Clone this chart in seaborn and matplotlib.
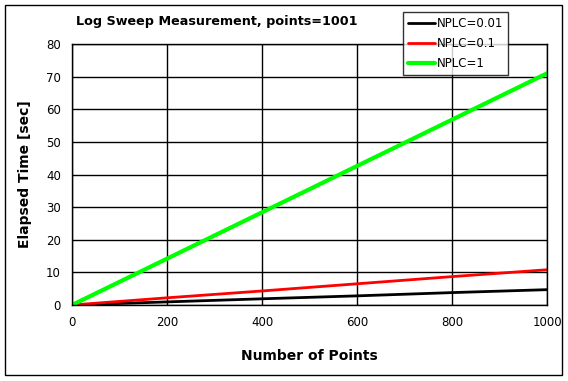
import matplotlib
matplotlib.use("Agg")
import matplotlib.pyplot as plt
from matplotlib.patches import Rectangle
import numpy as np
import pandas as pd
import seaborn as sns

# data
points = [0, 200, 400, 600, 800, 1000]
time_nplc_001 = [0.0, 0.95, 1.9, 2.8, 3.8, 4.7]
time_nplc_01 = [0.0, 2.2, 4.3, 6.5, 8.7, 10.8]
time_nplc_1 = [0.0, 14.2, 28.4, 42.6, 56.8, 71.0]
labels = ['NPLC=0.01', 'NPLC=0.1', 'NPLC=1']

df = pd.DataFrame({
    'points': points * 3,
    'time': time_nplc_001 + time_nplc_01 + time_nplc_1,
    'series': [labels[0]] * 6 + [labels[1]] * 6 + [labels[2]] * 6,
})

sns.set_theme(style='white')
plt.rcParams['font.family'] = ['DejaVu Sans']
plt.rcParams['text.color'] = 'black'
plt.rcParams['axes.labelcolor'] = 'black'

fig = plt.figure(figsize=(5.68, 3.81), dpi=100)
ax = fig.add_axes([72 / 568, 1 - 305 / 381, 475 / 568, 261 / 381])

palette = {labels[0]: '#000000', labels[1]: '#ff0000', labels[2]: '#00ff00'}
sns.lineplot(data=df, x='points', y='time', hue='series', palette=palette,
             size='series', sizes={labels[0]: 2.0, labels[1]: 2.0, labels[2]: 3.0},
             ax=ax, legend=True)

ax.set_xlim(0, 1000)
ax.set_ylim(0, 80)
ax.set_xticks(np.arange(0, 1001, 200))
ax.set_yticks(np.arange(0, 81, 10))
ax.grid(True, color='black', linewidth=1.0, linestyle='-')
for s in ax.spines.values():
    s.set_color('black')
    s.set_linewidth(1.0)
ax.tick_params(axis='both', length=0, labelsize=8.5, pad=8, colors='black')

ax.set_xlabel('Number of Points', fontsize=10, fontweight='bold', labelpad=14)
ax.set_ylabel('Elapsed Time [sec]', fontsize=10, fontweight='bold', labelpad=10)
fig.text(217 / 568, 1 - 22 / 381, 'Log Sweep Measurement, points=1001',
         fontsize=9.2, fontweight='bold', ha='center', va='center')

handles, lbls = ax.get_legend_handles_labels()
leg = ax.legend(handles, lbls, loc='upper left', bbox_to_anchor=(403 / 568, 1 - 12 / 381),
                bbox_transform=fig.transFigure, frameon=True, fancybox=False,
                edgecolor='black', fontsize=8.5, handlelength=2.3, handletextpad=0.15,
                borderpad=0.4, labelspacing=0.6, borderaxespad=0)
leg.get_frame().set_linewidth(1.0)

fig.patches.append(Rectangle((5 / 568, 1 - 375 / 381), 557 / 568, 370 / 381,
                             transform=fig.transFigure, fill=False,
                             edgecolor='black', linewidth=1.0))

plt.savefig('out.png', dpi=100)
